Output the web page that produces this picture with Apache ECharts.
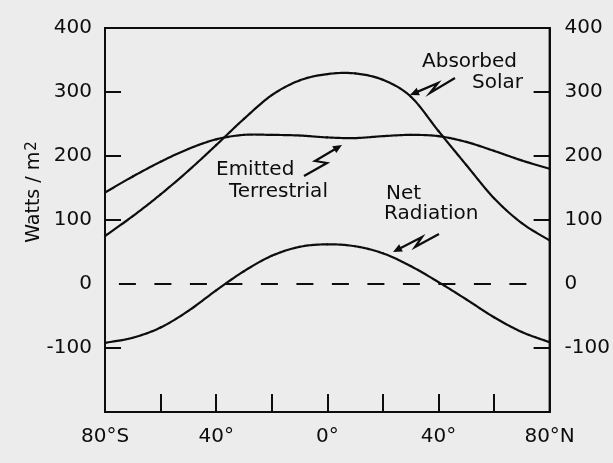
<!DOCTYPE html>
<html><head><meta charset="utf-8">
<script src="https://cdn.jsdelivr.net/npm/echarts@6/dist/echarts.min.js"></script>
<style>html,body{margin:0;padding:0;background:#ececec}#c{width:613px;height:463px}</style>
</head><body><div id="c"></div>
<script>
const latitudes = [-80,-70,-60,-50,-40,-30,-20,-10,0,10,20,30,40,50,60,70,80];
const absorbedSolar = [75,106,140,177,217,258,295,318,328,329,319,293,239,186,134,95,68];
const emittedTerrestrial = [143,168,191,211,226,233,233,232,229,228,231,233,231,222,208,193,180];
const netRadiation = [-92,-84,-68,-42,-10,20,44,58,62,59,48,28,3,-24,-52,-75,-91];
const yLabelValues = [-100,0,100,200,300,400];
const yTickValues = [-100,100,200,300];
const xLabelValues = [-80,-40,0,40,80];
const xLabelTexts = ['80°S','40°','0°','40°','80°N'];
const xTickValues = [-60,-40,-20,0,20,40,60];
const zeroLineSpan = [-75,73];

const INK = '#0d0d0d';
const FONT = 'DejaVu Sans';
const chart = echarts.init(document.getElementById('c'), null, {renderer:'canvas'});

function pair(xs, ys){ return xs.map((x,i)=>[x, ys[i]]); }

// Catmull-Rom rendering of a series through the chart's own coordinate mapping
function splineSeries(ys, extra){
  const data = pair(latitudes, ys);
  return Object.assign({
    type:'custom', coordinateSystem:'cartesian2d', data:data, encode:{x:0, y:1},
    renderItem:function(params, api){
      const i = params.dataIndex, n = data.length;
      if (i >= n-1) return null;
      const P = k => api.coord(data[k]);
      const p1 = P(i), p2 = P(i+1);
      const p0 = i > 0 ? P(i-1) : [2*p1[0]-p2[0], 2*p1[1]-p2[1]];
      const p3 = i+2 < n ? P(i+2) : [2*p2[0]-p1[0], 2*p2[1]-p1[1]];
      const pts = [];
      const steps = 16;
      for (let s = 0; s <= steps; s++){
        const t = s/steps, t2 = t*t, t3 = t2*t;
        const f = d => 0.5*((2*p1[d]) + (-p0[d]+p2[d])*t + (2*p0[d]-5*p1[d]+4*p2[d]-p3[d])*t2 + (-p0[d]+3*p1[d]-3*p2[d]+p3[d])*t3);
        pts.push([f(0), f(1)]);
      }
      return {type:'polyline', shape:{points:pts}, style:{stroke:INK, lineWidth:2.2, fill:null, lineCap:'round', lineJoin:'round'}};
    }
  }, extra || {});
}

function bolt(points){
  const n = points.length;
  const tip = points[n-1], prev = points[n-2];
  const dx = tip[0]-prev[0], dy = tip[1]-prev[1];
  const L = Math.hypot(dx,dy), ux = dx/L, uy = dy/L;
  const hl = 9, hw = 4;
  const bx = tip[0]-ux*hl, by = tip[1]-uy*hl;
  const head = [[tip[0],tip[1]],[bx-uy*hw, by+ux*hw],[bx+uy*hw, by-ux*hw]];
  const shaft = points.slice(0, n-1).concat([[tip[0]-ux*hl*0.6, tip[1]-uy*hl*0.6]]);
  return [
    {type:'polyline', shape:{points:shaft}, style:{stroke:INK, lineWidth:2.2, fill:null}},
    {type:'polygon', shape:{points:head}, style:{fill:INK}}
  ];
}
function label(text, x, y, align){
  return {type:'text', x:x, y:y, style:{text:text, font:'20px "'+FONT+'"', fill:INK, align:align||'left', verticalAlign:'middle'}};
}

const graphics = [].concat(
  [label('Absorbed', 422, 62), label('Solar', 523, 83, 'right')],
  bolt([[455,78],[430,93],[438,83],[410,95]]),
  [label('Emitted', 216, 170), label('Terrestrial', 229, 192)],
  bolt([[304,176],[327,163],[315,161],[342,145]]),
  [label('Net', 386, 194), label('Radiation', 384, 214)],
  bolt([[439,234],[415,247],[422,237],[393,252]]),
  [{type:'text', x:34, y:192, rotation:Math.PI/2,
    style:{text:'Watts / m{s|2}', font:'19px "'+FONT+'"', fill:INK, align:'center', verticalAlign:'middle',
      rich:{s:{fontSize:15, fontFamily:FONT, fill:INK, verticalAlign:'top', padding:[0,0,0,1]}}}}]
);

const yCommon = {
  type:'value', min:-200, max:400, interval:100,
  axisLine:{show:true, onZero:false, lineStyle:{color:INK, width:2}},
  axisTick:{show:true, inside:true, length:16, customValues:yTickValues, lineStyle:{color:INK, width:2}},
  axisLabel:{show:true, customValues:yLabelValues, color:INK, fontSize:20, fontFamily:FONT, margin:13},
  splitLine:{show:false}
};

chart.setOption({
  backgroundColor:'#ececec',
  animation:false,
  grid:{left:105, right:58, top:28, bottom:51, show:true, borderColor:INK, borderWidth:2, backgroundColor:'transparent'},
  xAxis:{type:'value', min:-80, max:80, interval:20,
    axisLine:{show:true, onZero:false, lineStyle:{color:INK, width:2}},
    axisTick:{show:true, inside:true, length:18, customValues:xTickValues, lineStyle:{color:INK, width:2}},
    axisLabel:{customValues:xLabelValues, color:INK, fontSize:20, fontFamily:FONT, margin:15,
      formatter:function(v){ const i = xLabelValues.indexOf(v); return i>=0 ? xLabelTexts[i] : ''; }},
    splitLine:{show:false}},
  yAxis:[
    Object.assign({}, yCommon, {position:'left'}),
    Object.assign({}, yCommon, {position:'right', axisLabel:Object.assign({}, yCommon.axisLabel, {margin:15})})
  ],
  series:[
    splineSeries(absorbedSolar),
    splineSeries(emittedTerrestrial),
    splineSeries(netRadiation),
    {type:'line', data:[], symbol:'none',
      markLine:{silent:true, symbol:'none', label:{show:false},
        lineStyle:{color:INK, width:2, type:[17,18.5]},
        data:[[{coord:[zeroLineSpan[0],0]},{coord:[zeroLineSpan[1],0]}]]}}
  ],
  graphic:graphics
});
</script></body></html>
